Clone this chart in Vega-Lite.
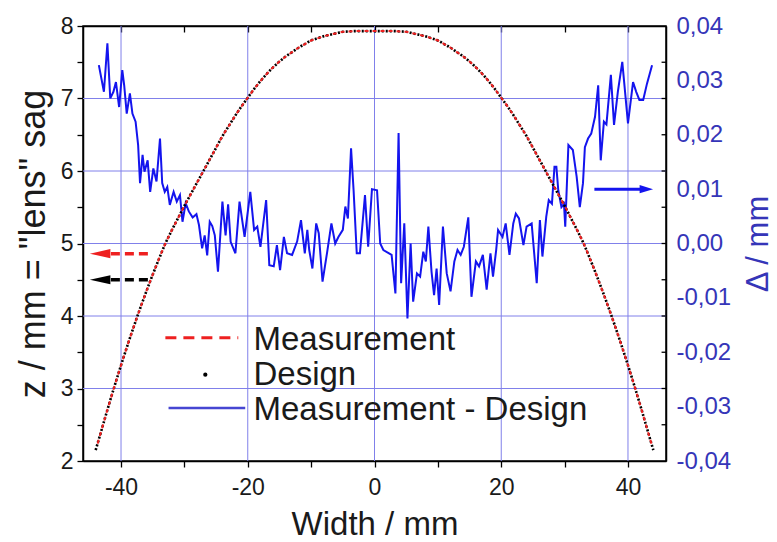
{
  "$schema": "https://vega.github.io/schema/vega-lite/v6.json",
  "width": 583,
  "height": 435,
  "autosize": {"type": "none"},
  "padding": {"left": 83, "top": 26, "right": 111, "bottom": 81},
  "background": "white",
  "config": {
    "font": "Liberation Sans",
    "view": {"stroke": "black", "strokeWidth": 1.5},
    "axis": {
      "domainColor": "black", "domainWidth": 1.5, "tickColor": "black", "tickWidth": 1.3,
      "labelFont": "Liberation Sans", "titleFont": "Liberation Sans",
      "labelFontSize": 23, "titleFontSize": 33, "titleFontWeight": "normal",
      "labelColor": "#1a1a1a", "titleColor": "#1a1a1a", "grid": false
    }
  },
  "datasets": {
    "gx": [{"x": -40}, {"x": -20}, {"x": 0}, {"x": 20}, {"x": 40}],
    "gz": [{"z": 3}, {"z": 4}, {"z": 5}, {"z": 6}, {"z": 7}],
    "rt": [{"z": 2.5}, {"z": 3}, {"z": 3.5}, {"z": 4}, {"z": 4.5}, {"z": 5}, {"z": 5.5}, {"z": 6}, {"z": 6.5}, {"z": 7}, {"z": 7.5}],
    "design": [
      {"x": -44, "z": 2.15}, {"x": -43, "z": 2.45}, {"x": -42, "z": 2.75}, {"x": -41, "z": 3.04}, {"x": -40, "z": 3.32},
      {"x": -39, "z": 3.59}, {"x": -38, "z": 3.85}, {"x": -37, "z": 4.10}, {"x": -36, "z": 4.34}, {"x": -35, "z": 4.57},
      {"x": -34, "z": 4.79}, {"x": -33, "z": 5.00}, {"x": -32, "z": 5.18}, {"x": -31, "z": 5.35}, {"x": -30, "z": 5.52},
      {"x": -29, "z": 5.68}, {"x": -28, "z": 5.84}, {"x": -27, "z": 6.00}, {"x": -26, "z": 6.16}, {"x": -25, "z": 6.32},
      {"x": -24, "z": 6.48}, {"x": -23, "z": 6.62}, {"x": -22, "z": 6.76}, {"x": -21, "z": 6.89}, {"x": -20, "z": 7.01},
      {"x": -19, "z": 7.13}, {"x": -18, "z": 7.24}, {"x": -17, "z": 7.34}, {"x": -16, "z": 7.43}, {"x": -15, "z": 7.51},
      {"x": -14, "z": 7.58}, {"x": -13, "z": 7.64}, {"x": -12, "z": 7.70}, {"x": -11, "z": 7.75}, {"x": -10, "z": 7.80},
      {"x": -9, "z": 7.83}, {"x": -8, "z": 7.86}, {"x": -7, "z": 7.88}, {"x": -6, "z": 7.90}, {"x": -5, "z": 7.92},
      {"x": -4, "z": 7.925}, {"x": -3, "z": 7.93}, {"x": -2, "z": 7.93}, {"x": -1, "z": 7.93}, {"x": 0, "z": 7.93},
      {"x": 1, "z": 7.93}, {"x": 2, "z": 7.93}, {"x": 3, "z": 7.93}, {"x": 4, "z": 7.925}, {"x": 5, "z": 7.92},
      {"x": 6, "z": 7.90}, {"x": 7, "z": 7.88}, {"x": 8, "z": 7.86}, {"x": 9, "z": 7.83}, {"x": 10, "z": 7.80},
      {"x": 11, "z": 7.75}, {"x": 12, "z": 7.70}, {"x": 13, "z": 7.64}, {"x": 14, "z": 7.58}, {"x": 15, "z": 7.51},
      {"x": 16, "z": 7.43}, {"x": 17, "z": 7.34}, {"x": 18, "z": 7.24}, {"x": 19, "z": 7.13}, {"x": 20, "z": 7.01},
      {"x": 21, "z": 6.89}, {"x": 22, "z": 6.76}, {"x": 23, "z": 6.62}, {"x": 24, "z": 6.48}, {"x": 25, "z": 6.32},
      {"x": 26, "z": 6.16}, {"x": 27, "z": 6.00}, {"x": 28, "z": 5.84}, {"x": 29, "z": 5.68}, {"x": 30, "z": 5.52},
      {"x": 31, "z": 5.35}, {"x": 32, "z": 5.18}, {"x": 33, "z": 5.00}, {"x": 34, "z": 4.79}, {"x": 35, "z": 4.57},
      {"x": 36, "z": 4.34}, {"x": 37, "z": 4.10}, {"x": 38, "z": 3.85}, {"x": 39, "z": 3.59}, {"x": 40, "z": 3.32},
      {"x": 41, "z": 3.04}, {"x": 42, "z": 2.75}, {"x": 43, "z": 2.45}, {"x": 44, "z": 2.15}
    ],
    "meas": [
      {"x": -43.7, "z": 2.24}, {"x": -43, "z": 2.45}, {"x": -42, "z": 2.75}, {"x": -41, "z": 3.04}, {"x": -40, "z": 3.32},
      {"x": -39, "z": 3.59}, {"x": -38, "z": 3.85}, {"x": -37, "z": 4.10}, {"x": -36, "z": 4.34}, {"x": -35, "z": 4.57},
      {"x": -34, "z": 4.79}, {"x": -33, "z": 5.00}, {"x": -32, "z": 5.18}, {"x": -31, "z": 5.35}, {"x": -30, "z": 5.52},
      {"x": -29, "z": 5.68}, {"x": -28, "z": 5.84}, {"x": -27, "z": 6.00}, {"x": -26, "z": 6.16}, {"x": -25, "z": 6.32},
      {"x": -24, "z": 6.48}, {"x": -23, "z": 6.62}, {"x": -22, "z": 6.76}, {"x": -21, "z": 6.89}, {"x": -20, "z": 7.01},
      {"x": -19, "z": 7.13}, {"x": -18, "z": 7.24}, {"x": -17, "z": 7.34}, {"x": -16, "z": 7.43}, {"x": -15, "z": 7.51},
      {"x": -14, "z": 7.58}, {"x": -13, "z": 7.64}, {"x": -12, "z": 7.70}, {"x": -11, "z": 7.75}, {"x": -10, "z": 7.80},
      {"x": -9, "z": 7.83}, {"x": -8, "z": 7.86}, {"x": -7, "z": 7.88}, {"x": -6, "z": 7.90}, {"x": -5, "z": 7.92},
      {"x": -4, "z": 7.925}, {"x": -3, "z": 7.93}, {"x": -2, "z": 7.93}, {"x": -1, "z": 7.93}, {"x": 0, "z": 7.93},
      {"x": 1, "z": 7.93}, {"x": 2, "z": 7.93}, {"x": 3, "z": 7.93}, {"x": 4, "z": 7.925}, {"x": 5, "z": 7.92},
      {"x": 6, "z": 7.90}, {"x": 7, "z": 7.88}, {"x": 8, "z": 7.86}, {"x": 9, "z": 7.83}, {"x": 10, "z": 7.80},
      {"x": 11, "z": 7.75}, {"x": 12, "z": 7.70}, {"x": 13, "z": 7.64}, {"x": 14, "z": 7.58}, {"x": 15, "z": 7.51},
      {"x": 16, "z": 7.43}, {"x": 17, "z": 7.34}, {"x": 18, "z": 7.24}, {"x": 19, "z": 7.13}, {"x": 20, "z": 7.01},
      {"x": 21, "z": 6.89}, {"x": 22, "z": 6.76}, {"x": 23, "z": 6.62}, {"x": 24, "z": 6.48}, {"x": 25, "z": 6.32},
      {"x": 26, "z": 6.16}, {"x": 27, "z": 6.00}, {"x": 28, "z": 5.84}, {"x": 29, "z": 5.68}, {"x": 30, "z": 5.52},
      {"x": 31, "z": 5.35}, {"x": 32, "z": 5.18}, {"x": 33, "z": 5.00}, {"x": 34, "z": 4.79}, {"x": 35, "z": 4.57},
      {"x": 36, "z": 4.34}, {"x": 37, "z": 4.10}, {"x": 38, "z": 3.85}, {"x": 39, "z": 3.59}, {"x": 40, "z": 3.32},
      {"x": 41, "z": 3.04}, {"x": 42, "z": 2.75}, {"x": 43, "z": 2.45}, {"x": 43.7, "z": 2.24}
    ],
    "delta": [
      {"x": -43.5, "d": 0.0328}, {"x": -42.7, "d": 0.0279}, {"x": -42.15, "d": 0.0368}, {"x": -41.7, "d": 0.0267},
      {"x": -41.2, "d": 0.0279}, {"x": -40.8, "d": 0.0297}, {"x": -40.3, "d": 0.0251}, {"x": -39.8, "d": 0.0319},
      {"x": -39.5, "d": 0.0291}, {"x": -39.1, "d": 0.0239}, {"x": -38.6, "d": 0.0276}, {"x": -38.2, "d": 0.0239},
      {"x": -37.7, "d": 0.0224}, {"x": -37.3, "d": 0.0181}, {"x": -37.0, "d": 0.0111}, {"x": -36.6, "d": 0.0163},
      {"x": -36.3, "d": 0.0132}, {"x": -35.8, "d": 0.0153}, {"x": -35.4, "d": 0.0095}, {"x": -34.9, "d": 0.0138},
      {"x": -34.4, "d": 0.0114}, {"x": -33.85, "d": 0.0193}, {"x": -33.5, "d": 0.0111}, {"x": -33.1, "d": 0.0095},
      {"x": -32.7, "d": 0.0104}, {"x": -32.3, "d": 0.0071}, {"x": -31.7, "d": 0.0095}, {"x": -31.2, "d": 0.0077},
      {"x": -30.7, "d": 0.0089}, {"x": -30.3, "d": 0.0040}, {"x": -29.8, "d": 0.0074}, {"x": -29.3, "d": 0.0059},
      {"x": -28.7, "d": 0.0048}, {"x": -28.1, "d": 0.0054}, {"x": -27.7, "d": 0.0034}, {"x": -27.2, "d": -0.0009},
      {"x": -26.8, "d": 0.0015}, {"x": -26.4, "d": -0.0022}, {"x": -26.0, "d": 0.0040}, {"x": -25.6, "d": 0.0032},
      {"x": -25.2, "d": 0.0015}, {"x": -24.7, "d": -0.0052}, {"x": -24.0, "d": 0.0077}, {"x": -23.5, "d": 0.0015},
      {"x": -23.1, "d": 0.0072}, {"x": -22.7, "d": 0.0003}, {"x": -21.95, "d": -0.0018}, {"x": -21.3, "d": 0.0077},
      {"x": -20.5, "d": 0.0012}, {"x": -19.6, "d": 0.0095}, {"x": -19.0, "d": 0.0025}, {"x": -18.5, "d": 0.0031},
      {"x": -18.0, "d": -0.0006}, {"x": -17.1, "d": 0.0080}, {"x": -16.6, "d": -0.0040}, {"x": -15.9, "d": -0.0042},
      {"x": -15.4, "d": -0.0003}, {"x": -14.9, "d": -0.0049}, {"x": -14.3, "d": 0.0012}, {"x": -13.8, "d": -0.0018},
      {"x": -13.0, "d": -0.0021}, {"x": -12.2, "d": 0.0004}, {"x": -11.6, "d": 0.0043}, {"x": -11.0, "d": -0.0018},
      {"x": -10.6, "d": 0.0025}, {"x": -10.3, "d": -0.0012}, {"x": -9.8, "d": -0.0046}, {"x": -9.2, "d": 0.0037},
      {"x": -8.8, "d": 0.0019}, {"x": -8.2, "d": -0.0070}, {"x": -7.5, "d": -0.0018}, {"x": -6.8, "d": 0.0037},
      {"x": -6.2, "d": 0.0000}, {"x": -5.7, "d": 0.0012}, {"x": -5.0, "d": 0.0025}, {"x": -4.6, "d": 0.0068},
      {"x": -4.2, "d": 0.0046}, {"x": -3.7, "d": 0.0175}, {"x": -3.3, "d": 0.0098}, {"x": -2.8, "d": -0.0018},
      {"x": -2.3, "d": -0.0018}, {"x": -1.5, "d": 0.0089}, {"x": -1.0, "d": -0.0006}, {"x": -0.4, "d": 0.0100},
      {"x": 0.4, "d": 0.0098}, {"x": 0.9, "d": 0.0000}, {"x": 1.4, "d": -0.0012}, {"x": 2.7, "d": -0.0021},
      {"x": 3.3, "d": -0.0092}, {"x": 3.8, "d": 0.0203}, {"x": 4.2, "d": -0.0073}, {"x": 4.7, "d": 0.0037},
      {"x": 5.2, "d": -0.0138}, {"x": 5.7, "d": 0.0000}, {"x": 6.1, "d": -0.0107}, {"x": 6.7, "d": -0.0055},
      {"x": 7.2, "d": -0.0061}, {"x": 7.7, "d": -0.0015}, {"x": 8.1, "d": -0.0033}, {"x": 8.5, "d": 0.0031},
      {"x": 9.0, "d": -0.0052}, {"x": 9.4, "d": -0.0095}, {"x": 9.8, "d": -0.0046}, {"x": 10.2, "d": -0.0113},
      {"x": 10.8, "d": 0.0031}, {"x": 11.4, "d": -0.0055}, {"x": 12.0, "d": -0.0088}, {"x": 12.6, "d": -0.0033},
      {"x": 13.1, "d": -0.0012}, {"x": 13.6, "d": -0.0021}, {"x": 14.1, "d": -0.0006}, {"x": 14.8, "d": 0.0048},
      {"x": 15.3, "d": -0.0098}, {"x": 16.0, "d": -0.0033}, {"x": 16.5, "d": -0.0042}, {"x": 17.1, "d": -0.0021},
      {"x": 17.7, "d": -0.0085}, {"x": 18.3, "d": -0.0018}, {"x": 18.7, "d": -0.0061}, {"x": 19.2, "d": -0.0012},
      {"x": 19.5, "d": 0.0025}, {"x": 20.2, "d": 0.0012}, {"x": 20.7, "d": 0.0037}, {"x": 21.3, "d": -0.0021},
      {"x": 21.9, "d": 0.0037}, {"x": 22.3, "d": 0.0055}, {"x": 22.8, "d": 0.0046}, {"x": 23.5, "d": -0.0003},
      {"x": 24.0, "d": 0.0031}, {"x": 24.8, "d": 0.0037}, {"x": 25.6, "d": -0.0073}, {"x": 26.1, "d": 0.0043},
      {"x": 26.5, "d": -0.0024}, {"x": 27.1, "d": 0.0049}, {"x": 27.5, "d": 0.0080}, {"x": 28.0, "d": 0.0073},
      {"x": 28.4, "d": 0.0141}, {"x": 28.7, "d": 0.0141}, {"x": 29.0, "d": 0.0098}, {"x": 29.5, "d": 0.0067},
      {"x": 29.9, "d": 0.0073}, {"x": 30.1, "d": 0.0031}, {"x": 30.6, "d": 0.0181}, {"x": 31.3, "d": 0.0172},
      {"x": 31.9, "d": 0.0123}, {"x": 32.4, "d": 0.0067}, {"x": 32.9, "d": 0.0111}, {"x": 33.2, "d": 0.0177},
      {"x": 33.7, "d": 0.0193}, {"x": 34.2, "d": 0.0202}, {"x": 34.8, "d": 0.0233}, {"x": 35.3, "d": 0.0291},
      {"x": 35.7, "d": 0.0153}, {"x": 36.2, "d": 0.0224}, {"x": 36.6, "d": 0.0219}, {"x": 37.3, "d": 0.0310},
      {"x": 37.8, "d": 0.0218}, {"x": 38.4, "d": 0.0279}, {"x": 39.1, "d": 0.0334}, {"x": 40.0, "d": 0.0221},
      {"x": 40.8, "d": 0.0297}, {"x": 41.3, "d": 0.0279}, {"x": 41.8, "d": 0.0264}, {"x": 42.4, "d": 0.0264},
      {"x": 43.0, "d": 0.0294}, {"x": 43.8, "d": 0.0328}
    ],
    "blueArrow": [{"x": 34.7, "x2": 42.0, "d": 0.0100, "hx": 42.9}],
    "redArrow": [{"x": -41.6, "x2": -35.6, "z": 4.86, "hx": -43.3}],
    "blackArrow": [{"x": -41.6, "x2": -35.6, "z": 4.50, "hx": -43.3}],
    "legRed": [{"x": -33.0, "x2": -21.5, "z": 3.70}],
    "legDot": [{"x": -26.7, "z": 3.19}],
    "legBlue": [{"x": -32.5, "x2": -20.4, "z": 2.73}],
    "legText": [
      {"x": -19.1, "z": 3.53, "t": "Measurement"},
      {"x": -19.1, "z": 3.05, "t": "Design"},
      {"x": -19.1, "z": 2.57, "t": "Measurement - Design"}
    ]
  },
  "layer": [
    {
      "layer": [
        {
          "data": {"name": "gx"},
          "mark": {"type": "rule", "color": "#8080ea", "strokeWidth": 1},
          "encoding": {
            "x": {"field": "x", "type": "quantitative", "scale": {"domain": [-46, 46], "nice": false, "zero": false},
              "axis": {"values": [-40, -30, -20, -10, 0, 10, 20, 30, 40],
                "labelExpr": "datum.value % 20 === 0 ? (datum.value < 0 ? '-' + abs(datum.value) : '' + datum.value) : ''",
                "title": "Width / mm", "tickSize": 6, "labelPadding": 9, "titlePadding": 9, "grid": false}}
          }
        },
        {
          "data": {"name": "gz"},
          "mark": {"type": "rule", "color": "#8080ea", "strokeWidth": 1},
          "encoding": {
            "y": {"field": "z", "type": "quantitative", "scale": {"domain": [2, 8], "nice": false, "zero": false},
              "axis": {"values": [2, 2.5, 3, 3.5, 4, 4.5, 5, 5.5, 6, 6.5, 7, 7.5, 8],
                "labelExpr": "datum.value % 1 === 0 ? '' + datum.value : ''",
                "title": "z / mm = \"lens\" sag", "titleFontSize": 36, "tickSize": 6, "labelPadding": 4, "titlePadding": 8, "grid": false}}
          }
        }
      ]
    },
    {
      "layer": [
        {
          "data": {"name": "delta"},
          "mark": {"type": "line", "color": "#1414ee", "strokeWidth": 2},
          "encoding": {
            "x": {"field": "x", "type": "quantitative", "scale": {"domain": [-46, 46], "nice": false, "zero": false},
              "axis": {"orient": "top", "values": [-40, -30, -20, -10, 0, 10, 20, 30, 40], "labels": false, "title": null, "tickSize": -6, "grid": false}},
            "y": {"field": "d", "type": "quantitative", "scale": {"domain": [-0.04, 0.04], "nice": false, "zero": false},
              "axis": {"orient": "right", "values": [-0.04, -0.03, -0.02, -0.01, 0, 0.01, 0.02, 0.03, 0.04],
                "labelExpr": "replace(replace(format(datum.value, '.2f'), '.', ','), '\u2212', '-')",
                "title": "Δ / mm", "titleAngle": 270, "titleFontSize": 31, "labelColor": "#3535b8", "titleColor": "#3535b8",
                "labelFontSize": 24, "ticks": false, "labelPadding": 10, "titlePadding": 44, "grid": false}}
          }
        },
        {
          "data": {"name": "blueArrow"},
          "mark": {"type": "rule", "color": "#1414ee", "strokeWidth": 3},
          "encoding": {
            "x": {"field": "x", "type": "quantitative"},
            "x2": {"field": "x2"},
            "y": {"field": "d", "type": "quantitative"}
          }
        },
        {
          "data": {"name": "blueArrow"},
          "mark": {"type": "point", "shape": "M1,0L-1,-0.6L-1,0.6Z", "filled": true, "color": "#1414ee", "size": 180, "opacity": 1},
          "encoding": {
            "x": {"field": "hx", "type": "quantitative"},
            "y": {"field": "d", "type": "quantitative"}
          }
        }
      ]
    },
    {
      "layer": [
        {
          "data": {"name": "rt"},
          "mark": {"type": "rule", "color": "black", "strokeWidth": 1.3},
          "encoding": {
            "x": {"datum": 45.3, "type": "quantitative", "scale": {"domain": [-46, 46], "nice": false, "zero": false}, "axis": null},
            "x2": {"datum": 46},
            "y": {"field": "z", "type": "quantitative", "scale": {"domain": [2, 8], "nice": false, "zero": false}, "axis": null}
          }
        },
        {
          "data": {"name": "design"},
          "mark": {"type": "line", "color": "black", "strokeWidth": 2.6, "strokeDash": [2, 2], "interpolate": "monotone"},
          "encoding": {
            "x": {"field": "x", "type": "quantitative"},
            "y": {"field": "z", "type": "quantitative"}
          }
        },
        {
          "data": {"name": "meas"},
          "mark": {"type": "line", "color": "#ee2020", "strokeWidth": 2, "strokeDash": [4, 4], "interpolate": "monotone"},
          "encoding": {
            "x": {"field": "x", "type": "quantitative"},
            "y": {"field": "z", "type": "quantitative"}
          }
        },
        {
          "data": {"name": "redArrow"},
          "mark": {"type": "rule", "color": "#ee2020", "strokeWidth": 3.5, "strokeDash": [9, 5]},
          "encoding": {
            "x": {"field": "x", "type": "quantitative"},
            "x2": {"field": "x2"},
            "y": {"field": "z", "type": "quantitative"}
          }
        },
        {
          "data": {"name": "redArrow"},
          "mark": {"type": "point", "shape": "M-1,0L1,-0.45L1,0.45Z", "filled": true, "color": "#ee2020", "size": 420, "opacity": 1},
          "encoding": {
            "x": {"field": "hx", "type": "quantitative"},
            "y": {"field": "z", "type": "quantitative"}
          }
        },
        {
          "data": {"name": "blackArrow"},
          "mark": {"type": "rule", "color": "black", "strokeWidth": 3.5, "strokeDash": [9, 5]},
          "encoding": {
            "x": {"field": "x", "type": "quantitative"},
            "x2": {"field": "x2"},
            "y": {"field": "z", "type": "quantitative"}
          }
        },
        {
          "data": {"name": "blackArrow"},
          "mark": {"type": "point", "shape": "M-1,0L1,-0.45L1,0.45Z", "filled": true, "color": "black", "size": 420, "opacity": 1},
          "encoding": {
            "x": {"field": "hx", "type": "quantitative"},
            "y": {"field": "z", "type": "quantitative"}
          }
        },
        {
          "data": {"name": "legRed"},
          "mark": {"type": "rule", "color": "#ee2020", "strokeWidth": 3, "strokeDash": [11, 7]},
          "encoding": {
            "x": {"field": "x", "type": "quantitative"},
            "x2": {"field": "x2"},
            "y": {"field": "z", "type": "quantitative"}
          }
        },
        {
          "data": {"name": "legDot"},
          "mark": {"type": "circle", "color": "black", "size": 18, "opacity": 1},
          "encoding": {
            "x": {"field": "x", "type": "quantitative"},
            "y": {"field": "z", "type": "quantitative"}
          }
        },
        {
          "data": {"name": "legBlue"},
          "mark": {"type": "rule", "color": "#4646d2", "strokeWidth": 2.5},
          "encoding": {
            "x": {"field": "x", "type": "quantitative"},
            "x2": {"field": "x2"},
            "y": {"field": "z", "type": "quantitative"}
          }
        },
        {
          "data": {"name": "legText"},
          "mark": {"type": "text", "align": "left", "baseline": "alphabetic", "fontSize": 33, "font": "Liberation Sans", "color": "#1a1a1a"},
          "encoding": {
            "x": {"field": "x", "type": "quantitative"},
            "y": {"field": "z", "type": "quantitative"},
            "text": {"field": "t"}
          }
        }
      ]
    }
  ],
  "resolve": {"scale": {"y": "independent"}, "axis": {"x": "independent", "y": "independent"}}
}
